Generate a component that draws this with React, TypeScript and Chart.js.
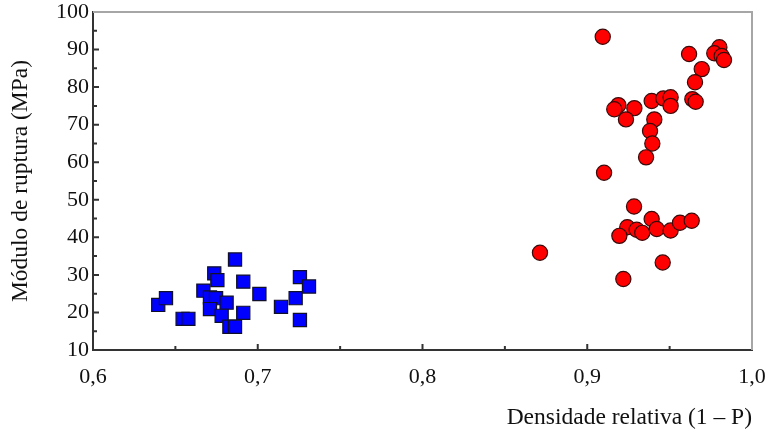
import React, { useEffect, useRef } from "react";
import { Chart, registerables } from "chart.js";

Chart.register(...registerables);

// Blue squares (lower density group)
const blueX = [0.6396, 0.6443, 0.6544, 0.6579, 0.6862, 0.6736, 0.6755, 0.667, 0.671, 0.6747, 0.6811, 0.671, 0.6781, 0.6912, 0.6828, 0.6862, 0.6912, 0.701, 0.7141, 0.723, 0.7256, 0.7311, 0.7256];
const blueY = [22.0, 23.8, 18.3, 18.3, 34.1, 30.4, 28.6, 25.8, 24.0, 23.8, 22.6, 20.9, 19.1, 19.9, 16.2, 16.2, 28.2, 24.9, 21.5, 23.8, 29.4, 26.9, 18.0];

// Red circles (high density group)
const redX = [0.9094, 0.9618, 0.9802, 0.9771, 0.9816, 0.983, 0.9695, 0.9654, 0.9638, 0.9658, 0.9189, 0.9164, 0.9286, 0.9235, 0.9391, 0.9462, 0.9506, 0.9506, 0.9407, 0.9381, 0.9395, 0.9357, 0.9102, 0.9284, 0.9391, 0.9243, 0.93, 0.9334, 0.9195, 0.9422, 0.9506, 0.9563, 0.9634, 0.8713, 0.9458, 0.9219];
const redY = [93.4, 88.8, 90.6, 89.0, 88.3, 87.2, 84.8, 81.3, 76.8, 76.1, 75.2, 74.1, 74.4, 71.4, 76.3, 77.0, 77.3, 75.0, 71.4, 68.3, 65.0, 61.3, 57.2, 48.2, 44.9, 42.7, 42.0, 41.2, 40.4, 42.2, 41.8, 43.9, 44.4, 35.9, 33.3, 28.9];

const xTickValues = [0.6, 0.7, 0.8, 0.9, 1.0];
const xTickLabels = ["0,6", "0,7", "0,8", "0,9", "1,0"];
const yTickValues = [10, 20, 30, 40, 50, 60, 70, 80, 90, 100];
const yTickLabels = ["10", "20", "30", "40", "50", "60", "70", "80", "90", "100"];

const xTitle = "Densidade relativa (1 – P)";
const yTitle = "Módulo de ruptura (MPa)";

const FONT = "'Liberation Serif', 'Times New Roman', serif";

function labelFor(values: number[], labels: string[], v: number) {
  const i = values.findIndex((t) => Math.abs(t - v) < 1e-6);
  return i >= 0 ? labels[i] : "";
}

const framePlugin = {
  id: "frame",
  beforeDatasetsDraw(chart: any) {
    const { ctx, chartArea, scales } = chart;
    const { left, right, top, bottom } = chartArea;
    ctx.save();
    ctx.strokeStyle = "#a6a6a6";
    ctx.lineWidth = 2;
    ctx.beginPath();
    ctx.moveTo(left, top);
    ctx.lineTo(right, top);
    ctx.lineTo(right, bottom);
    ctx.stroke();

    ctx.strokeStyle = "#333333";
    ctx.lineWidth = 2;
    ctx.beginPath();
    scales.x.ticks.forEach((t: any) => {
      const px = scales.x.getPixelForValue(t.value);
      const major = labelFor(xTickValues, xTickLabels, t.value) !== "";
      if (px <= left + 1 || px >= right - 1) return;
      ctx.moveTo(px, bottom);
      ctx.lineTo(px, bottom - (major ? 6 : 4));
    });
    scales.y.ticks.forEach((t: any) => {
      const py = scales.y.getPixelForValue(t.value);
      const major = labelFor(yTickValues, yTickLabels, t.value) !== "";
      if (py <= top + 1 || py >= bottom - 1) return;
      ctx.moveTo(left, py);
      ctx.lineTo(left + (major ? 6 : 4), py);
    });
    ctx.stroke();
    ctx.restore();
  },
};

export default function App() {
  const ref = useRef<HTMLCanvasElement | null>(null);

  useEffect(() => {
    if (!ref.current) return;
    const chart = new Chart(ref.current, {
      type: "scatter",
      data: {
        datasets: [
          {
            label: "A",
            data: blueX.map((x, i) => ({ x, y: blueY[i] })),
            pointStyle: "rect",
            pointRadius: 9.3,
            pointHoverRadius: 9.3,
            backgroundColor: "#0000ff",
            borderColor: "#10102a",
            borderWidth: 1.2,
          },
          {
            label: "B",
            data: redX.map((x, i) => ({ x, y: redY[i] })),
            pointStyle: "circle",
            pointRadius: 7.6,
            pointHoverRadius: 7.6,
            backgroundColor: "#ff0000",
            borderColor: "#3a0a0a",
            borderWidth: 1.2,
          },
        ],
      },
      options: {
        animation: false,
        responsive: false,
        events: [],
        layout: { padding: { top: 12, right: 22, left: 0, bottom: 0 } },
        plugins: {
          legend: { display: false },
          tooltip: { enabled: false },
        },
        scales: {
          x: {
            type: "linear",
            min: 0.6,
            max: 1.0,
            ticks: {
              stepSize: 0.05,
              autoSkip: false,
              maxRotation: 0,
              padding: 14,
              color: "#111",
              font: { family: FONT, size: 22 },
              callback: (v: any) => labelFor(xTickValues, xTickLabels, Number(v)),
            },
            grid: { display: true, drawOnChartArea: false, drawTicks: false },
            border: { display: true, color: "#333333", width: 2 },
            title: {
              display: true,
              text: xTitle,
              align: "end",
              color: "#111",
              font: { family: FONT, size: 23.5 },
              padding: { top: 0, bottom: 1 },
            },
            afterFit: (s: any) => {
              s.height = 83;
              s.paddingLeft = 0;
              s.paddingRight = 0;
            },
          },
          y: {
            type: "linear",
            min: 10,
            max: 100,
            ticks: {
              stepSize: 5,
              autoSkip: false,
              padding: 4,
              color: "#111",
              font: { family: FONT, size: 22 },
              callback: (v: any) => labelFor(yTickValues, yTickLabels, Number(v)),
            },
            grid: { display: true, drawOnChartArea: false, drawTicks: false },
            border: { display: true, color: "#333333", width: 2 },
            title: {
              display: true,
              text: yTitle,
              color: "#111",
              font: { family: FONT, size: 23.5 },
              padding: { top: 7, bottom: 0 },
            },
            afterFit: (s: any) => {
              s.width = 93;
              s.paddingTop = 0;
              s.paddingBottom = 0;
            },
          },
        },
      },
      plugins: [framePlugin],
    } as any);
    return () => chart.destroy();
  }, []);

  return (
    <div style={{ position: "fixed", left: 0, top: 0, width: 774, height: 433, background: "#fff" }}>
      <canvas ref={ref} width={774} height={433} style={{ display: "block" }} />
    </div>
  );
}
